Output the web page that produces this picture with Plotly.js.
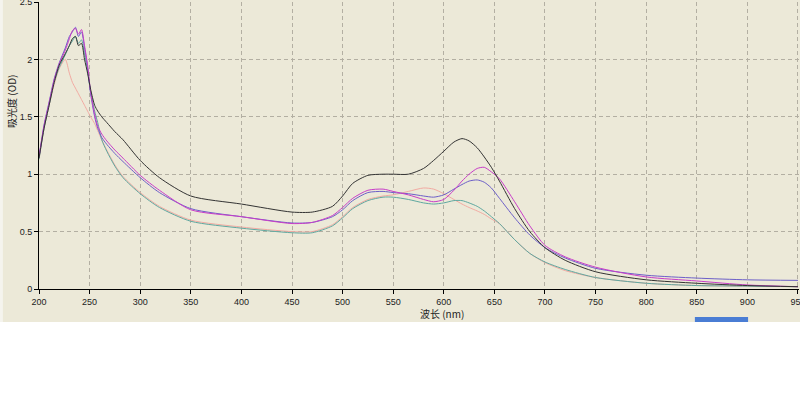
<!DOCTYPE html>
<html>
<head>
<meta charset="utf-8">
<script src="https://cdn.plot.ly/plotly-3.0.1.min.js"></script>
<style>
  html, body { margin: 0; padding: 0; background: #ffffff; }
  #chart { width: 800px; height: 322px; }
</style>
</head>
<body>
<div id="chart"></div>
<script>
// Wavelength grid (nm)
const wavelength = [200,205,210,215,220,226,230,233,236,239,242,245,248,251,255,258,262,267,275,283,300,319,350,400,450,470,490,500,510,525,540,550,565,580,590,600,610,618,625,633,640,647,655,670,685,700,720,750,800,850,900,950];

// Absorbance (OD) series
const blackOD   = [1.14,1.40,1.60,1.80,1.95,2.05,2.12,2.18,2.20,2.12,2.14,2.00,1.88,1.74,1.60,1.55,1.50,1.45,1.37,1.30,1.12,0.97,0.81,0.74,0.67,0.67,0.72,0.81,0.92,0.99,1.00,1.00,1.00,1.05,1.12,1.20,1.28,1.31,1.29,1.23,1.15,1.06,0.94,0.70,0.50,0.36,0.25,0.15,0.08,0.05,0.03,0.02];
const magentaOD = [1.15,1.42,1.62,1.82,1.96,2.08,2.18,2.25,2.27,2.22,2.26,2.12,1.95,1.72,1.52,1.42,1.35,1.29,1.21,1.14,0.99,0.86,0.69,0.63,0.57,0.58,0.64,0.71,0.79,0.86,0.87,0.85,0.82,0.78,0.76,0.78,0.86,0.94,1.00,1.05,1.06,1.02,0.96,0.76,0.55,0.38,0.28,0.19,0.105,0.07,0.035,0.02];
const purpleOD  = [1.15,1.43,1.63,1.83,1.97,2.10,2.20,2.24,2.28,2.20,2.24,2.10,1.93,1.70,1.50,1.40,1.32,1.26,1.18,1.11,0.97,0.84,0.70,0.63,0.575,0.58,0.63,0.69,0.77,0.84,0.85,0.84,0.83,0.81,0.80,0.82,0.87,0.91,0.94,0.95,0.93,0.88,0.79,0.62,0.47,0.36,0.27,0.18,0.12,0.095,0.08,0.075];
const tealOD    = [1.13,1.40,1.60,1.80,1.93,2.04,2.12,2.16,2.20,2.14,2.17,2.05,1.90,1.72,1.55,1.45,1.30,1.20,1.07,0.97,0.83,0.71,0.59,0.53,0.49,0.49,0.55,0.62,0.70,0.77,0.80,0.80,0.78,0.75,0.74,0.75,0.77,0.77,0.75,0.72,0.68,0.63,0.57,0.43,0.31,0.235,0.17,0.10,0.05,0.03,0.025,0.02];
const salmonOD  = [1.13,1.40,1.60,1.78,1.92,2.00,1.88,1.80,1.75,1.70,1.65,1.60,1.55,1.50,1.44,1.38,1.30,1.21,1.08,0.98,0.84,0.72,0.60,0.54,0.50,0.50,0.56,0.63,0.71,0.78,0.81,0.82,0.85,0.88,0.87,0.83,0.78,0.74,0.71,0.68,0.65,0.61,0.57,0.43,0.31,0.23,0.16,0.10,0.05,0.03,0.025,0.02];

const xTicks = [200,250,300,350,400,450,500,550,600,650,700,750,800,850,900,950];
const yTicks = [0,0.5,1,1.5,2,2.5];
const yTickText = ['0','0.5','1','1.5','2','2.5'];

const series = [
  {y: salmonOD,  color: '#F2AAA2'},
  {y: tealOD,    color: '#5FA8A0'},
  {y: purpleOD,  color: '#6C5FC8'},
  {y: magentaOD, color: '#C83CC8'},
  {y: blackOD,   color: '#333333'}
];

const traces = series.map(s => ({
  x: wavelength, y: s.y, type: 'scatter', mode: 'lines',
  line: {color: s.color, width: 1, shape: 'spline', smoothing: 0.7}, hoverinfo: 'skip'
}));

const tickFont = {family: 'Liberation Sans, Arial, sans-serif', size: 9, color: '#222'};
const axisCommon = {
  showline: true, linecolor: '#000', linewidth: 1,
  ticks: 'outside', ticklen: 4, tickcolor: '#000', tickwidth: 1,
  showgrid: true, gridcolor: '#B3AFA2', griddash: '4px,3px', gridwidth: 1,
  zeroline: false, tickfont: tickFont, fixedrange: true, ticklabeloverflow: 'allow'
};

const layout = {
  width: 800, height: 322,
  margin: {l: 39, r: 1, t: 2, b: 33},
  paper_bgcolor: '#ECE9D8', plot_bgcolor: '#ECE9D8',
  showlegend: false,
  xaxis: Object.assign({}, axisCommon, {range: [200, 951], tickvals: xTicks, ticktext: xTicks.map(String)}),
  yaxis: Object.assign({}, axisCommon, {range: [0, 2.5], tickvals: yTicks, ticktext: yTickText}),
  annotations: [
    {text: '吸光度 (OD)', xref: 'paper', yref: 'paper', x: -0.0355, y: 0.652, textangle: -90,
     showarrow: false, xanchor: 'center', yanchor: 'middle',
     font: {family: 'Noto Sans CJK SC, sans-serif', size: 10, color: '#222'}},
    {text: '波长 (nm)', xref: 'paper', yref: 'paper', x: 0.530, y: -0.087,
     showarrow: false, xanchor: 'center', yanchor: 'middle',
     font: {family: 'Noto Sans CJK SC, sans-serif', size: 10, color: '#222'}}
  ],
  shapes: [
    {type: 'rect', xref: 'paper', yref: 'paper', x0: 0.863, x1: 0.933, y0: -0.115, y1: -0.0976,
     fillcolor: '#4A7DD4', line: {width: 0}},
    {type: 'rect', xref: 'paper', yref: 'paper', x0: -0.0513, x1: -0.0475, y0: -0.115, y1: 1.007,
     fillcolor: '#F5F4EE', line: {width: 0}}
  ]
};

Plotly.newPlot('chart', traces, layout, {displayModeBar: false, staticPlot: true});
</script>
</body>
</html>
